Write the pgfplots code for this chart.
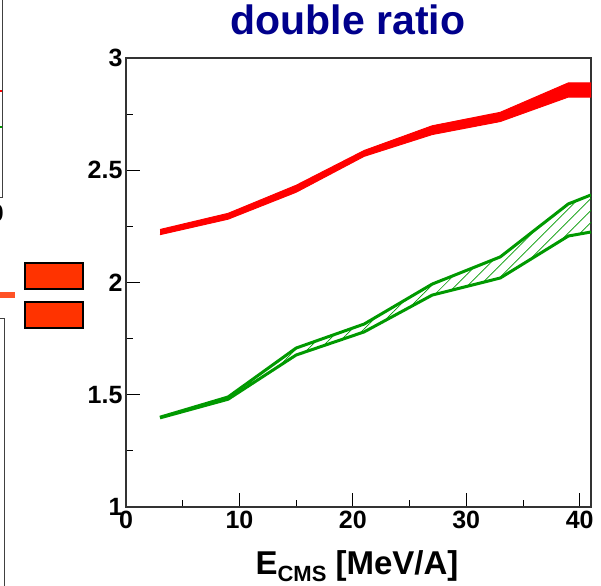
\documentclass[border=0pt]{standalone}
\usepackage{pgfplots}
\pgfplotsset{compat=1.18}
\usepgfplotslibrary{fillbetween}
\usetikzlibrary{patterns.meta}
\usepackage{fontspec}
\setmainfont{Liberation Sans}
\definecolor{titleblue}{rgb}{0,0,0.55}
\definecolor{dgreen}{rgb}{0,0.6,0}
\definecolor{eqred}{HTML}{FF3300}
\definecolor{bandred}{HTML}{FF0000}
\begin{document}
\begin{tikzpicture}[x=1pt,y=1pt]
% fragments of the neighbouring slide content
\draw[line width=1pt, black!75] (2,586) -- (2,387) -- (-1,387);
\node[font=\fontsize{24}{24}\selectfont\bfseries, anchor=base east, inner sep=0pt] at (4,363) {0};
\draw[red, line width=2pt] (-1,494) -- (2,494);
\draw[dgreen, line width=2pt] (-1,458) -- (2,458);
\draw[eqred!85!white, line width=6pt] (-1,289.5) -- (15,289.5);
\draw[line width=1pt, black!75] (-1,266) -- (4,266) -- (4,-1);
\draw[fill=eqred, line width=1.2pt] (25,296) rectangle (83,322);
\draw[fill=eqred, line width=1.2pt] (25,257) rectangle (83,283);
\begin{axis}[
  at={(126pt,78pt)}, anchor=south west,
  scale only axis, width=465pt, height=449pt,
  xmin=0, xmax=41, ymin=1, ymax=3,
  xtick={0,10,20,30,40}, minor xtick={5,15,25,35},
  ytick={1,1.5,2,2.5,3}, minor ytick={1.25,1.75,2.25,2.75},
  tick align=inside, tick pos=left,
  major tick length=14pt, minor tick length=7pt,
  axis line style={line width=1.2pt, black!80},
  every tick/.style={black, line width=0.9pt},
  ticklabel style={font=\fontsize{25}{25}\selectfont\bfseries},
  xticklabel style={yshift=-1pt},
  /pgf/number format/assume math mode=true,
]
% red band
\addplot[name path=ru, draw=bandred, line width=1pt] coordinates {
 (3,2.236) (9,2.308) (15,2.433) (21,2.588) (27,2.698) (33,2.758) (39,2.889) (41,2.889)};
\addplot[name path=rl, draw=bandred, line width=1pt] coordinates {
 (3,2.213) (9,2.282) (15,2.402) (21,2.562) (27,2.659) (33,2.717) (39,2.826) (41,2.826)};
\addplot[fill=bandred, draw=none] fill between[of=ru and rl];
% green hatched band
\addplot[name path=gu, draw=dgreen, line width=3pt] coordinates {
 (3,1.40) (9,1.49) (15,1.708) (21,1.815) (27,1.993) (33,2.114) (39,2.35) (41,2.39)};
\addplot[name path=gl, draw=dgreen, line width=3pt] coordinates {
 (3,1.397) (9,1.48) (15,1.677) (21,1.78) (27,1.944) (33,2.02) (39,2.207) (41,2.225)};
\addplot[pattern={Lines[angle=45,distance=8.5pt,line width=0.7pt]}, pattern color=dgreen, draw=none] fill between[of=gu and gl];
\end{axis}
\node[anchor=base, font=\fontsize{41}{41}\selectfont\bfseries, text=titleblue, inner sep=0pt] at (348,550) {double ratio};
\node[anchor=base, font=\fontsize{33}{33}\selectfont\bfseries, inner sep=0pt] at (357,10) {E\raisebox{-6pt}{\fontsize{22}{22}\selectfont CMS} [MeV/A]};
\pgfresetboundingbox
\useasboundingbox (0,0) rectangle (601,585);
\end{tikzpicture}
\end{document}
